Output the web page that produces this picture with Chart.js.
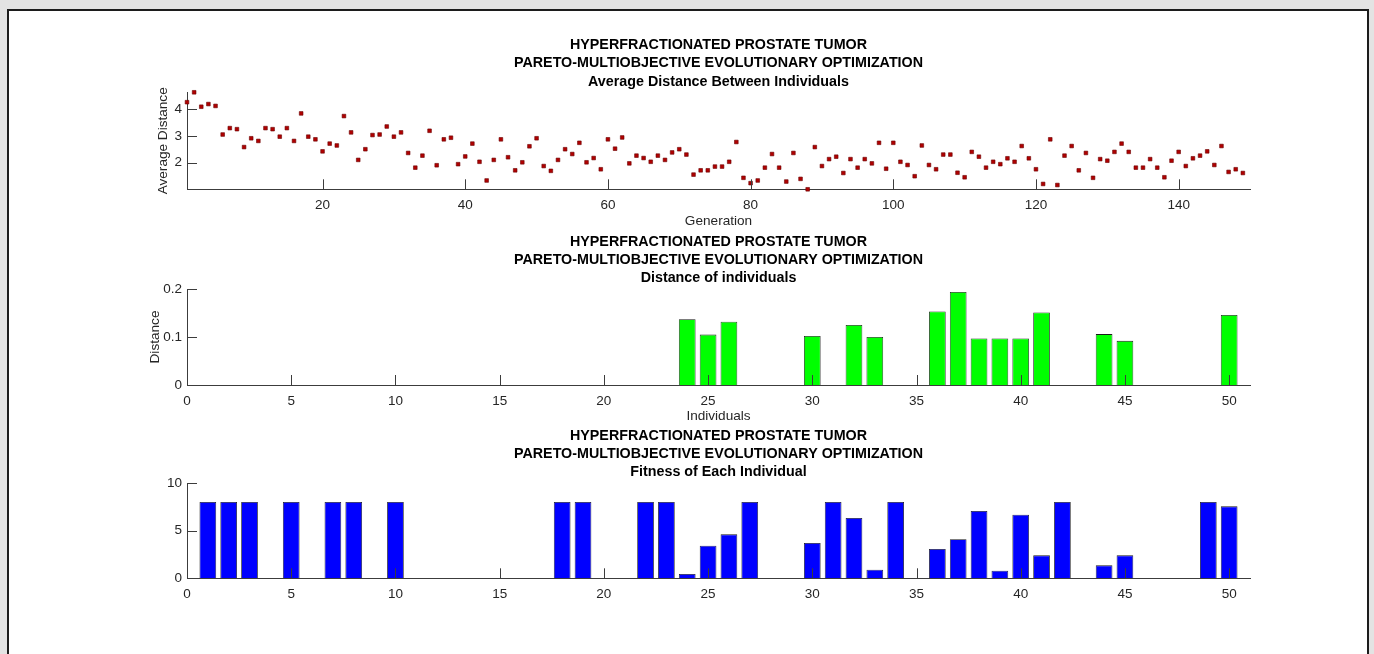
<!DOCTYPE html>
<html>
<head>
<meta charset="utf-8">
<script src="https://cdn.jsdelivr.net/npm/chart.js@4.4.1/dist/chart.umd.min.js"></script>
<style>
  html, body { margin: 0; padding: 0; width: 1374px; height: 654px; overflow: hidden; background: #e3e3e3; }
  #frame { position: absolute; left: 7px; top: 9px; width: 1358px; height: 700px; background: #fff; border: 2px solid #1c1c1c; }
  canvas { position: absolute; left: 0; }
</style>
</head>
<body>
<div id="frame"></div>
<canvas id="avgChart" width="1374" height="240" style="top:0px"></canvas>
<canvas id="distChart" width="1374" height="200" style="top:230px"></canvas>
<canvas id="fitChart" width="1374" height="229" style="top:425px"></canvas>
<script>
// ---- data ----
const titleLines = ['HYPERFRACTIONATED PROSTATE TUMOR', 'PARETO-MULTIOBJECTIVE EVOLUTIONARY OPTIMIZATION'];

// Average distance between individuals, generations 1..149
const avgDistance = [
  4.26, 4.63, 4.09, 4.19, 4.12, 3.05, 3.29, 3.25, 2.58, 2.91,
  2.81, 3.29, 3.25, 2.97, 3.29, 2.81, 3.84, 2.97, 2.87, 2.42,
  2.71, 2.64, 3.74, 3.13, 2.10, 2.50, 3.03, 3.05, 3.35, 2.97,
  3.13, 2.36, 1.81, 2.26, 3.19, 1.90, 2.87, 2.93, 1.94, 2.23,
  2.71, 2.03, 1.33, 2.10, 2.87, 2.20, 1.71, 2.01, 2.61, 2.91,
  1.87, 1.69, 2.10, 2.50, 2.32, 2.74, 2.01, 2.17, 1.75, 2.87,
  2.52, 2.94, 1.97, 2.26, 2.17, 2.03, 2.26, 2.10, 2.38, 2.50,
  2.30, 1.55, 1.71, 1.71, 1.85, 1.85, 2.03, 2.77, 1.43, 1.23,
  1.33, 1.81, 2.32, 1.81, 1.29, 2.36, 1.39, 1.00, 2.58, 1.87,
  2.13, 2.22, 1.61, 2.13, 1.81, 2.13, 1.97, 2.74, 1.77, 2.74,
  2.03, 1.91, 1.49, 2.64, 1.91, 1.75, 2.30, 2.30, 1.62, 1.45,
  2.40, 2.22, 1.81, 2.03, 1.94, 2.16, 2.03, 2.62, 2.16, 1.75,
  1.20, 2.87, 1.16, 2.26, 2.62, 1.71, 2.36, 1.43, 2.13, 2.07,
  2.40, 2.71, 2.40, 1.81, 1.81, 2.13, 1.81, 1.45, 2.07, 2.40,
  1.87, 2.16, 2.26, 2.42, 1.91, 2.62, 1.65, 1.75, 1.61
];
const generations = avgDistance.map((_, i) => i + 1);
const generationRange = [1, 150];
const generationTicks = [20, 40, 60, 80, 100, 120, 140];
const avgDistanceTicks = [2, 3, 4];

// Individuals 1..50
const individuals = Array.from({ length: 50 }, (_, i) => i + 1);
const individualRange = [0, 51];
const individualTicks = [0, 5, 10, 15, 20, 25, 30, 35, 40, 45, 50];

const distances = [
  0, 0, 0, 0, 0, 0, 0, 0, 0, 0,
  0, 0, 0, 0, 0, 0, 0, 0, 0, 0,
  0, 0, 0, 0.137, 0.105, 0.132, 0, 0, 0, 0.102,
  0, 0.125, 0.100, 0, 0, 0.153, 0.194, 0.097, 0.097, 0.097,
  0.151, 0, 0, 0.106, 0.092, 0, 0, 0, 0, 0.146
];
const distanceRange = [0, 0.2];
const distanceTicks = [0, 0.1, 0.2];

const fitness = [
  8, 8, 8, 0, 8, 0, 8, 8, 0, 8,
  0, 0, 0, 0, 0, 0, 0, 8, 8, 0,
  0, 8, 8, 0.45, 3.42, 4.61, 8, 0, 0, 3.70,
  8, 6.33, 0.91, 8, 0, 3.07, 4.09, 7.06, 0.80, 6.68,
  2.41, 8, 0, 1.36, 2.41, 0, 0, 0, 8, 7.55
];
const fitnessRange = [0, 10];
const fitnessTicks = [0, 5, 10];

// ---- styling ----
const FONT = '"Liberation Sans", Arial, Helvetica, sans-serif';
const AXIS_COLOR = '#3c3c3c';
const LABEL_COLOR = '#262626';
const TICK_LEN = 10;
const PLOT_LEFT = 187;
const PLOT_RIGHT = 1250;
Chart.defaults.font.family = FONT;
Chart.defaults.font.size = 13.5;
Chart.defaults.color = LABEL_COLOR;
Chart.defaults.animation = false;

// Inward tick marks, stacked bold titles and axis labels centred on the plot area
const panelDecor = {
  id: 'panelDecor',
  afterDatasetsDraw(chart, args, opts) {
    const { ctx, chartArea: a, scales: { x, y } } = chart;
    ctx.save();
    ctx.strokeStyle = AXIS_COLOR;
    ctx.lineWidth = 1;
    ctx.beginPath();
    x.ticks.forEach(t => {
      const p = Math.round(x.getPixelForValue(t.value)) + 0.5;
      ctx.moveTo(p, a.bottom);
      ctx.lineTo(p, a.bottom - TICK_LEN);
    });
    y.ticks.forEach(t => {
      const p = Math.round(y.getPixelForValue(t.value)) + 0.5;
      ctx.moveTo(a.left, p);
      ctx.lineTo(a.left + TICK_LEN, p);
    });
    ctx.stroke();

    const cx = (a.left + a.right) / 2;
    ctx.fillStyle = '#000';
    ctx.textAlign = 'center';
    ctx.textBaseline = 'middle';
    ctx.font = 'bold 14.3px ' + FONT;
    const lines = opts.title || [];
    const offsets = [-47, -29, -10.5];
    lines.forEach((line, i) => ctx.fillText(line, cx, a.top + offsets[i]));

    ctx.font = '13.6px ' + FONT;
    ctx.fillStyle = LABEL_COLOR;
    if (opts.xLabel) ctx.fillText(opts.xLabel, cx, a.bottom + 31.5);
    if (opts.yLabel) {
      ctx.translate(a.left - opts.yLabelGap, (a.top + a.bottom) / 2);
      ctx.rotate(-Math.PI / 2);
      ctx.fillText(opts.yLabel, 0, 0);
    }
    ctx.restore();
  }
};

function axes(xRange, xTicks, yRange, yTicks, yFmt) {
  return {
    x: {
      type: 'linear', min: xRange[0], max: xRange[1], offset: false,
      grid: { display: false, drawTicks: false },
      border: { display: true, color: AXIS_COLOR, width: 1 },
      ticks: { padding: 8, maxRotation: 0, color: LABEL_COLOR },
      afterBuildTicks: s => { s.ticks = xTicks.map(v => ({ value: v })); },
      afterFit: s => { s.height = 40; }
    },
    y: {
      type: 'linear', min: yRange[0], max: yRange[1],
      grid: { display: false, drawTicks: false },
      border: { display: true, color: AXIS_COLOR, width: 1 },
      ticks: { padding: 5, color: LABEL_COLOR, callback: yFmt || (v => v) },
      afterBuildTicks: s => { s.ticks = yTicks.map(v => ({ value: v })); },
      afterFit: s => { s.width = 50; }
    }
  };
}

function barBorder(ctx) {
  return ctx.raw && ctx.raw.y > 0 ? 0.8 : 0;
}

// Panel 1: average distance per generation
new Chart(document.getElementById('avgChart'), {
  type: 'scatter',
  data: {
    datasets: [{
      data: generations.map((g, i) => ({ x: g, y: avgDistance[i] })),
      pointStyle: 'rect',
      pointRadius: 2.6,
      backgroundColor: '#b00000',
      borderColor: '#6a0000',
      borderWidth: 0.6,
      clip: false
    }]
  },
  options: {
    responsive: false,
    layout: { padding: { left: PLOT_LEFT - 50, right: 1374 - PLOT_RIGHT, top: 92.3, bottom: 240 - 189.3 - 40 } },
    plugins: {
      legend: { display: false }, tooltip: { enabled: false },
      panelDecor: { title: [...titleLines, 'Average Distance Between Individuals'], xLabel: 'Generation', yLabel: 'Average Distance', yLabelGap: 24 }
    },
    scales: axes(generationRange, generationTicks,
      [Math.min(...avgDistance), Math.max(...avgDistance)], avgDistanceTicks)
  },
  plugins: [panelDecor]
});

// Panel 2: distance of each individual
new Chart(document.getElementById('distChart'), {
  type: 'bar',
  data: {
    datasets: [{
      data: individuals.map((n, i) => ({ x: n, y: distances[i] })),
      backgroundColor: '#00ff00',
      borderColor: '#1a1a1a',
      borderWidth: barBorder,
      borderSkipped: 'bottom',
      barPercentage: 0.8,
      categoryPercentage: 1.0
    }]
  },
  options: {
    responsive: false,
    layout: { padding: { left: PLOT_LEFT - 50, right: 1374 - PLOT_RIGHT, top: 59, bottom: 200 - 155 - 40 } },
    plugins: {
      legend: { display: false }, tooltip: { enabled: false },
      panelDecor: { title: [...titleLines, 'Distance of individuals'], xLabel: 'Individuals', yLabel: 'Distance', yLabelGap: 32 }
    },
    scales: axes(individualRange, individualTicks, distanceRange, distanceTicks, v => (v === 0 ? '0' : v.toFixed(1)))
  },
  plugins: [panelDecor]
});

// Panel 3: fitness of each individual
new Chart(document.getElementById('fitChart'), {
  type: 'bar',
  data: {
    datasets: [{
      data: individuals.map((n, i) => ({ x: n, y: fitness[i] })),
      backgroundColor: '#0000ff',
      borderColor: '#1a1a1a',
      borderWidth: barBorder,
      borderSkipped: 'bottom',
      barPercentage: 0.8,
      categoryPercentage: 1.0
    }]
  },
  options: {
    responsive: false,
    layout: { padding: { left: PLOT_LEFT - 50, right: 1374 - PLOT_RIGHT, top: 58, bottom: 229 - 153.3 - 40 } },
    plugins: {
      legend: { display: false }, tooltip: { enabled: false },
      panelDecor: { title: [...titleLines, 'Fitness of Each Individual'] }
    },
    scales: axes(individualRange, individualTicks, fitnessRange, fitnessTicks)
  },
  plugins: [panelDecor]
});
</script>
</body>
</html>
